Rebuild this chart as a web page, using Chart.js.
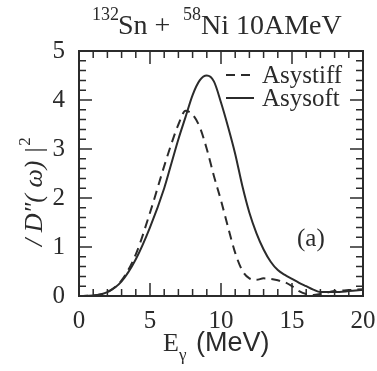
<!DOCTYPE html>
<html>
<head>
<meta charset="utf-8">
<script src="https://cdn.jsdelivr.net/npm/chart.js@4.4.1/dist/chart.umd.min.js"></script>
</head>
<body style="margin:0">
<canvas id="dipoleChart" width="377" height="371"></canvas>
<script>
// photon energy (MeV)
var energy = [0, 1, 2, 3, 4, 5, 6, 6.5, 7, 7.5, 8, 8.5, 9, 9.5, 10, 10.5, 11, 11.5, 12, 12.5, 13, 13.5, 14, 14.5, 15, 15.5, 16, 16.5, 17, 18, 19, 20];
// |D''(w)|^2 for the two symmetry energy choices
var asysoft = [0, 0.01, 0.08, 0.3, 0.75, 1.4, 2.2, 2.7, 3.2, 3.65, 4.1, 4.4, 4.5, 4.38, 3.95, 3.45, 2.9, 2.25, 1.7, 1.28, 0.95, 0.7, 0.53, 0.43, 0.35, 0.27, 0.2, 0.13, 0.08, 0.08, 0.1, 0.13];
var asystiff = [0, 0.01, 0.08, 0.32, 0.85, 1.7, 2.65, 3.1, 3.5, 3.78, 3.7, 3.45, 3.0, 2.45, 1.95, 1.4, 0.88, 0.52, 0.36, 0.33, 0.36, 0.35, 0.32, 0.28, 0.2, 0.1, 0.04, 0.02, 0.04, 0.1, 0.12, 0.14];
var seriesNames = ['Asystiff', 'Asysoft'];
var xTicks = [0, 5, 10, 15, 20];
var yTicks = [0, 1, 2, 3, 4, 5];

var ink = '#2b2b2b';
var serif = '"Liberation Serif", "DejaVu Serif", serif';
var sans = '"Liberation Sans", Arial, sans-serif';

function toPoints(xs, ys) {
    let pts = [];
    for (let i = 0; i < xs.length; i++) pts.push({ x: xs[i], y: ys[i] });
    return pts;
}

// frame and inward ticks, drawn before the curves
const frame = {
    id: 'frame',
    beforeDatasetsDraw(chart) {
        const ctx = chart.ctx;
        const xs = chart.scales.x, ys = chart.scales.y;
        const x0 = xs.getPixelForValue(0), x1 = xs.getPixelForValue(20);
        const y0 = ys.getPixelForValue(0), y1 = ys.getPixelForValue(5);
        ctx.save();
        ctx.setLineDash([]);
        ctx.strokeStyle = ink;
        ctx.lineWidth = 2;
        ctx.strokeRect(x0, y1, x1 - x0, y0 - y1);
        ctx.lineWidth = 1.5;
        for (let v = 0; v <= 20; v++) {
            const px = xs.getPixelForValue(v);
            const len = (v % 5 === 0) ? 13 : 7;
            ctx.beginPath();
            ctx.moveTo(px, y0); ctx.lineTo(px, y0 - len);
            ctx.moveTo(px, y1); ctx.lineTo(px, y1 + len);
            ctx.stroke();
        }
        for (let k = 0; k <= 25; k++) {
            const py = ys.getPixelForValue(k * 0.2);
            const len = (k % 5 === 0) ? 13 : 7;
            ctx.beginPath();
            ctx.moveTo(x0, py); ctx.lineTo(x0 + len, py);
            ctx.moveTo(x1, py); ctx.lineTo(x1 - len, py);
            ctx.stroke();
        }
        ctx.restore();
    }
};

// title, axis titles, legend and panel label
const labels = {
    id: 'labels',
    afterDraw(chart) {
        const ctx = chart.ctx;
        ctx.save();
        ctx.strokeStyle = ink;
        ctx.fillStyle = ink;

        // legend samples
        ctx.lineWidth = 2;
        ctx.setLineDash([9, 6]);
        ctx.beginPath(); ctx.moveTo(226, 75); ctx.lineTo(254, 75); ctx.stroke();
        ctx.setLineDash([]);
        ctx.beginPath(); ctx.moveTo(226, 98); ctx.lineTo(254, 98); ctx.stroke();

        ctx.textBaseline = 'alphabetic';
        ctx.textAlign = 'left';
        ctx.font = '25px ' + serif;
        ctx.fillText(seriesNames[0], 262, 83);
        ctx.fillText(seriesNames[1], 262, 106);
        ctx.fillText('(a)', 297, 246);

        // title with superscript mass numbers
        ctx.font = '18px ' + serif;
        ctx.fillText('132', 92, 20);
        ctx.font = '28px ' + serif;
        ctx.fillText('Sn + ', 118, 34);
        ctx.font = '18px ' + serif;
        ctx.fillText('58', 183, 20);
        ctx.font = '28px ' + serif;
        ctx.fillText('Ni 10AMeV', 201, 34);

        // x axis title
        ctx.font = '26px ' + serif;
        ctx.fillText('E', 163, 351);
        ctx.font = '17px ' + serif;
        ctx.fillText('\u03B3', 179, 360);
        ctx.font = '27px ' + sans;
        ctx.fillText('(MeV)', 196, 351);

        // y axis title, rotated
        ctx.translate(42, 246);
        ctx.rotate(-Math.PI / 2);
        ctx.font = 'italic 26px ' + serif;
        const yTitle = '/ D\u2033( \u03C9) |';
        ctx.fillText(yTitle, 0, 0);
        const w = ctx.measureText(yTitle).width;
        ctx.font = '17px ' + serif;
        ctx.fillText('2', w + 1, -12);
        ctx.restore();
    }
};

new Chart(document.getElementById('dipoleChart'), {
    type: 'line',
    data: {
        datasets: [{
            label: seriesNames[0],
            data: toPoints(energy, asystiff),
            borderColor: ink,
            borderWidth: 2,
            borderDash: [9, 6],
            pointRadius: 0,
            cubicInterpolationMode: 'monotone'
        }, {
            label: seriesNames[1],
            data: toPoints(energy, asysoft),
            borderColor: ink,
            borderWidth: 2,
            pointRadius: 0,
            cubicInterpolationMode: 'monotone'
        }]
    },
    options: {
        responsive: false,
        animation: false,
        layout: { padding: { left: 0, right: 14, top: 51, bottom: 0 } },
        plugins: { legend: { display: false }, tooltip: { enabled: false } },
        scales: {
            x: {
                type: 'linear', min: 0, max: 20,
                grid: { display: false },
                border: { display: false },
                afterBuildTicks: function (s) { s.ticks = xTicks.map(v => ({ value: v })); },
                afterFit: function (s) { s.height = 75; s.paddingLeft = 0; s.paddingRight = 0; },
                ticks: { color: ink, padding: 2, maxRotation: 0, font: { family: serif, size: 25 } }
            },
            y: {
                min: 0, max: 5,
                grid: { display: false },
                border: { display: false },
                afterBuildTicks: function (s) { s.ticks = yTicks.map(v => ({ value: v })); },
                afterFit: function (s) { s.width = 79; s.paddingTop = 0; s.paddingBottom = 0; },
                ticks: { color: ink, padding: 6, font: { family: serif, size: 25 } }
            }
        }
    },
    plugins: [frame, labels]
});
</script>
</body>
</html>
